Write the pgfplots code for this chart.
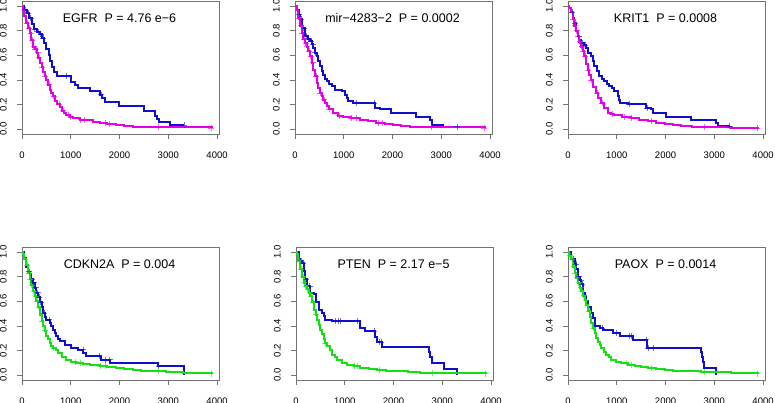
\documentclass[border=0pt]{standalone}
\usepackage{fontspec}
\setmainfont{Liberation Sans}
\usepackage{pgfplots}
\pgfplotsset{compat=1.18}
\definecolor{kmblue}{RGB}{15,15,205}
\definecolor{kmpink}{RGB}{230,0,230}
\definecolor{kmgreen}{RGB}{20,225,20}
\pgfplotsset{
 km/.style={
  scale only axis, width=197pt, height=133pt,
  xmin=0, xmax=4040, ymin=-0.04, ymax=1.04,
  xtick={0,1000,2000,3000,4000}, ytick={0,0.2,0.4,0.6,0.8,1},
  tick pos=left, tick align=outside, major tick length=5pt,
  axis line style={black!55, line width=0.6pt},
  every tick/.style={black!55, line width=0.6pt},
  /pgf/number format/assume math mode=true,
  scaled ticks=false,
  tick label style={font=\fontsize{9.5}{11}\selectfont, inner sep=0pt},
  xticklabel style={anchor=north, yshift=-12.5pt, /pgf/number format/fixed, /pgf/number format/1000 sep={}},
  yticklabel style={xshift=-10pt, rotate=90, anchor=south, /pgf/number format/fixed, /pgf/number format/precision=1, /pgf/number format/fixed zerofill},
  anchor=south west,
 },
 kmline/.style={const plot, no marks, line width=2pt},
 kmcens/.style={only marks, mark=+, mark size=3pt, mark options={line width=0.6pt, opacity=0.6}},
}
\newcommand{\kmtitle}[1]{\node at (axis cs:2000,0.9) {\fontsize{12.5}{14}\selectfont #1};}
\begin{document}
\begin{tikzpicture}
\useasboundingbox (0,0) rectangle (775pt,403pt);
% ---------- EGFR
\begin{axis}[km, at={(22pt,269pt)}]
\addplot[kmline, kmblue] coordinates {(0,1)(50,0.97)(100,0.94)(150,0.90)(200,0.85)(250,0.81)(300,0.79)(370,0.77)(400,0.74)(450,0.70)(500,0.65)(550,0.60)(580,0.55)(620,0.50)(650,0.46)(720,0.43)(1000,0.38)(1080,0.36)(1150,0.33)(1400,0.31)(1600,0.28)(1640,0.25)(1700,0.22)(1980,0.19)(2500,0.15)(2720,0.11)(2760,0.08)(2800,0.06)(3040,0.03)(3320,0.03)};
\addplot[kmcens, kmblue] coordinates {(60,0.97)(120,0.94)(180,0.90)(260,0.81)(330,0.79)(380,0.77)(430,0.74)(900,0.43)(1620,0.28)(3320,0.03)};
\addplot[kmline, kmpink] coordinates {(0,1)(20,0.97)(50,0.92)(90,0.86)(120,0.82)(157,0.78)(190,0.72)(225,0.67)(260,0.65)(300,0.62)(330,0.58)(362,0.535)(400,0.50)(430,0.46)(470,0.43)(500,0.40)(540,0.36)(570,0.32)(600,0.29)(636,0.265)(680,0.23)(720,0.20)(773,0.18)(820,0.15)(870,0.13)(910,0.116)(980,0.10)(1050,0.09)(1183,0.076)(1300,0.07)(1450,0.06)(1590,0.049)(1750,0.042)(1935,0.035)(2100,0.028)(2277,0.02)(2500,0.017)(2800,0.015)(3300,0.013)(3900,0.01)};
\addplot[kmcens, kmpink] coordinates {(100,0.86)(150,0.82)(180,0.78)(210,0.72)(240,0.67)(270,0.65)(290,0.65)(320,0.62)(350,0.58)(420,0.50)(480,0.43)(560,0.36)(650,0.265)(760,0.20)(850,0.15)(950,0.116)(1000,0.10)(1200,0.076)(1280,0.076)(1700,0.049)(1800,0.042)(2800,0.015)(3880,0.01)};
\kmtitle{EGFR\ \ P = 4.76 e−6}
\end{axis}
% ---------- mir-4283-2
\begin{axis}[km, at={(295pt,269pt)}]
\addplot[kmline, kmblue] coordinates {(0,1)(40,0.97)(80,0.93)(100,0.89)(150,0.82)(204,0.755)(260,0.73)(307,0.715)(340,0.69)(375,0.66)(410,0.62)(443,0.59)(480,0.55)(511,0.51)(545,0.47)(579,0.44)(610,0.41)(647,0.39)(700,0.37)(750,0.35)(818,0.32)(954,0.31)(1022,0.28)(1060,0.25)(1090,0.225)(1192,0.21)(1635,0.17)(1738,0.16)(1976,0.13)(2487,0.10)(2760,0.07)(2800,0.035)(3045,0.02)(3320,0.02)};
\addplot[kmcens, kmblue] coordinates {(90,0.93)(130,0.89)(180,0.82)(230,0.755)(280,0.73)(330,0.715)(360,0.69)(420,0.62)(1250,0.21)(1620,0.21)(3320,0.02)};
\addplot[kmline, kmpink] coordinates {(0,1)(34,0.97)(70,0.9)(102,0.84)(135,0.78)(170,0.73)(205,0.70)(238,0.67)(270,0.63)(307,0.59)(340,0.54)(375,0.48)(410,0.43)(443,0.375)(480,0.33)(511,0.29)(545,0.265)(579,0.24)(610,0.21)(647,0.185)(700,0.16)(784,0.13)(880,0.11)(988,0.10)(1150,0.087)(1329,0.076)(1500,0.063)(1670,0.05)(1850,0.042)(2010,0.035)(2180,0.027)(2350,0.02)(2690,0.016)(3373,0.014)(3900,0.01)};
\addplot[kmcens, kmpink] coordinates {(80,0.9)(120,0.84)(150,0.78)(190,0.73)(220,0.70)(250,0.67)(290,0.63)(320,0.59)(360,0.54)(430,0.43)(520,0.29)(600,0.24)(700,0.16)(900,0.11)(1150,0.087)(1250,0.087)(1700,0.05)(1800,0.05)(2800,0.016)(3880,0.01)};
\kmtitle{mir−4283−2\ \ P = 0.0002}
\end{axis}
% ---------- KRIT1
\begin{axis}[km, at={(568pt,269pt)}]
\addplot[kmline, kmblue] coordinates {(0,1)(30,0.98)(62,0.95)(100,0.90)(130,0.86)(165,0.80)(199,0.755)(230,0.72)(267,0.70)(320,0.68)(370,0.66)(420,0.62)(473,0.59)(510,0.55)(541,0.51)(590,0.47)(644,0.43)(700,0.41)(747,0.39)(800,0.37)(849,0.35)(900,0.33)(952,0.31)(1020,0.27)(1050,0.24)(1075,0.21)(1226,0.20)(1603,0.17)(1700,0.16)(1740,0.13)(2014,0.10)(2527,0.076)(3041,0.05)(3075,0.025)(3315,0.025)};
\addplot[kmcens, kmblue] coordinates {(90,0.95)(150,0.86)(220,0.755)(290,0.70)(350,0.68)(1250,0.20)(1620,0.17)(3315,0.025)};
\addplot[kmline, kmpink] coordinates {(0,1)(30,0.98)(62,0.95)(95,0.89)(130,0.84)(165,0.80)(199,0.755)(230,0.71)(267,0.67)(300,0.63)(336,0.59)(370,0.53)(404,0.48)(440,0.44)(473,0.40)(520,0.34)(575,0.29)(620,0.25)(678,0.21)(740,0.17)(815,0.13)(880,0.12)(952,0.117)(1100,0.10)(1294,0.09)(1450,0.075)(1637,0.063)(1800,0.052)(1980,0.043)(2150,0.035)(2322,0.027)(2550,0.02)(2801,0.016)(3349,0.011)(3897,0.008)};
\addplot[kmcens, kmpink] coordinates {(100,0.89)(140,0.84)(180,0.80)(210,0.755)(250,0.71)(280,0.67)(310,0.63)(350,0.59)(420,0.48)(480,0.40)(600,0.29)(700,0.21)(900,0.12)(1150,0.10)(1300,0.09)(1700,0.063)(2800,0.016)(3880,0.008)};
\kmtitle{KRIT1\ \ P = 0.0008}
\end{axis}
% ---------- CDKN2A
\begin{axis}[km, at={(22pt,23pt)}]
\addplot[kmline, kmblue] coordinates {(0,1)(40,0.95)(80,0.88)(120,0.84)(157,0.82)(190,0.78)(226,0.75)(260,0.71)(294,0.67)(330,0.63)(362,0.59)(400,0.55)(431,0.505)(470,0.47)(499,0.45)(568,0.42)(600,0.40)(636,0.37)(670,0.34)(704,0.315)(740,0.29)(773,0.274)(875,0.247)(1012,0.22)(1149,0.206)(1251,0.18)(1320,0.152)(1627,0.125)(1812,0.098)(2790,0.07)(3323,0)};
\addplot[kmcens, kmblue] coordinates {(150,0.84)(200,0.78)(240,0.75)(280,0.71)(320,0.67)(350,0.63)(380,0.59)(450,0.505)(550,0.45)(1250,0.206)(1580,0.152)(1700,0.125)(1800,0.125)(2800,0.07)};
\addplot[kmline, kmgreen] coordinates {(0,1)(20,0.98)(50,0.94)(89,0.89)(120,0.83)(157,0.78)(190,0.73)(226,0.68)(260,0.64)(294,0.60)(330,0.55)(362,0.49)(400,0.44)(431,0.40)(465,0.36)(499,0.315)(530,0.29)(568,0.26)(600,0.24)(636,0.22)(690,0.20)(739,0.18)(820,0.15)(910,0.125)(1000,0.11)(1115,0.098)(1250,0.09)(1388,0.084)(1593,0.07)(1750,0.063)(1935,0.057)(2100,0.05)(2277,0.043)(2450,0.036)(2619,0.03)(2960,0.022)(3302,0.016)(3897,0.011)};
\addplot[kmcens, kmgreen] coordinates {(60,0.94)(100,0.89)(140,0.83)(170,0.78)(200,0.73)(240,0.68)(280,0.64)(310,0.60)(340,0.55)(420,0.44)(480,0.36)(650,0.22)(1100,0.11)(1200,0.098)(1600,0.07)(1700,0.07)(2800,0.03)(3880,0.011)};
\kmtitle{CDKN2A\ \ P = 0.004}
\end{axis}
% ---------- PTEN
\begin{axis}[km, at={(296pt,23pt)}]
\addplot[kmline, kmblue] coordinates {(0,1)(55,0.94)(89,0.93)(123,0.91)(157,0.845)(191,0.78)(226,0.72)(294,0.67)(362,0.655)(417,0.59)(465,0.53)(533,0.505)(568,0.48)(602,0.45)(738,0.4375)(1306,0.383)(1422,0.356)(1627,0.31)(1661,0.27)(1764,0.23)(2735,0.19)(2755,0.15)(2790,0.098)(3030,0.05)(3302,0)};
\addplot[kmcens, kmblue] coordinates {(100,0.93)(140,0.91)(200,0.78)(280,0.72)(800,0.4375)(860,0.4375)(900,0.4375)(1250,0.4375)(1600,0.356)(1700,0.27)(1750,0.27)};
\addplot[kmline, kmgreen] coordinates {(0,1)(20,0.98)(50,0.93)(89,0.86)(120,0.80)(157,0.75)(190,0.72)(226,0.70)(260,0.67)(294,0.64)(330,0.59)(362,0.53)(400,0.49)(431,0.45)(465,0.41)(499,0.37)(530,0.33)(568,0.29)(600,0.26)(636,0.234)(690,0.20)(738,0.166)(790,0.145)(841,0.125)(950,0.10)(1046,0.084)(1180,0.07)(1320,0.057)(1500,0.05)(1661,0.043)(1850,0.036)(2003,0.03)(2300,0.022)(2550,0.016)(3234,0.014)(3897,0.011)};
\addplot[kmcens, kmgreen] coordinates {(60,0.93)(100,0.86)(140,0.80)(170,0.75)(200,0.72)(240,0.70)(280,0.67)(310,0.64)(350,0.59)(420,0.49)(600,0.26)(1200,0.07)(1250,0.07)(1700,0.043)(2800,0.016)(3880,0.011)};
\kmtitle{PTEN\ \ P = 2.17 e−5}
\end{axis}
% ---------- PAOX
\begin{axis}[km, at={(568pt,23pt)}]
\addplot[kmline, kmblue] coordinates {(0,1)(68,0.94)(137,0.90)(171,0.86)(205,0.80)(240,0.77)(273,0.74)(307,0.67)(341,0.64)(375,0.60)(410,0.55)(464,0.505)(512,0.465)(546,0.40)(648,0.383)(717,0.37)(921,0.34)(1058,0.315)(1331,0.288)(1625,0.22)(2717,0.19)(2750,0.15)(2770,0.11)(2798,0.055)(3038,0)};
\addplot[kmcens, kmblue] coordinates {(100,0.94)(160,0.90)(220,0.80)(260,0.77)(290,0.74)(700,0.383)(1000,0.34)(1250,0.315)(1300,0.315)(1600,0.288)(1650,0.22)(1750,0.22)};
\addplot[kmline, kmgreen] coordinates {(0,1)(30,0.97)(68,0.94)(100,0.88)(137,0.83)(170,0.79)(205,0.75)(240,0.71)(273,0.68)(307,0.645)(341,0.61)(375,0.565)(410,0.52)(445,0.47)(478,0.42)(512,0.38)(546,0.34)(580,0.30)(614,0.27)(650,0.245)(683,0.22)(735,0.19)(785,0.166)(835,0.145)(887,0.125)(990,0.11)(1092,0.098)(1230,0.085)(1365,0.076)(1500,0.066)(1638,0.057)(1800,0.05)(1980,0.043)(2150,0.036)(2321,0.03)(2730,0.022)(3345,0.016)(3891,0.011)};
\addplot[kmcens, kmgreen] coordinates {(50,0.97)(90,0.94)(120,0.88)(150,0.83)(190,0.79)(220,0.75)(260,0.71)(290,0.68)(320,0.645)(360,0.61)(430,0.52)(520,0.38)(1200,0.098)(1300,0.085)(1700,0.057)(2800,0.022)(3880,0.011)};
\kmtitle{PAOX\ \ P = 0.0014}
\end{axis}
\end{tikzpicture}
\end{document}
